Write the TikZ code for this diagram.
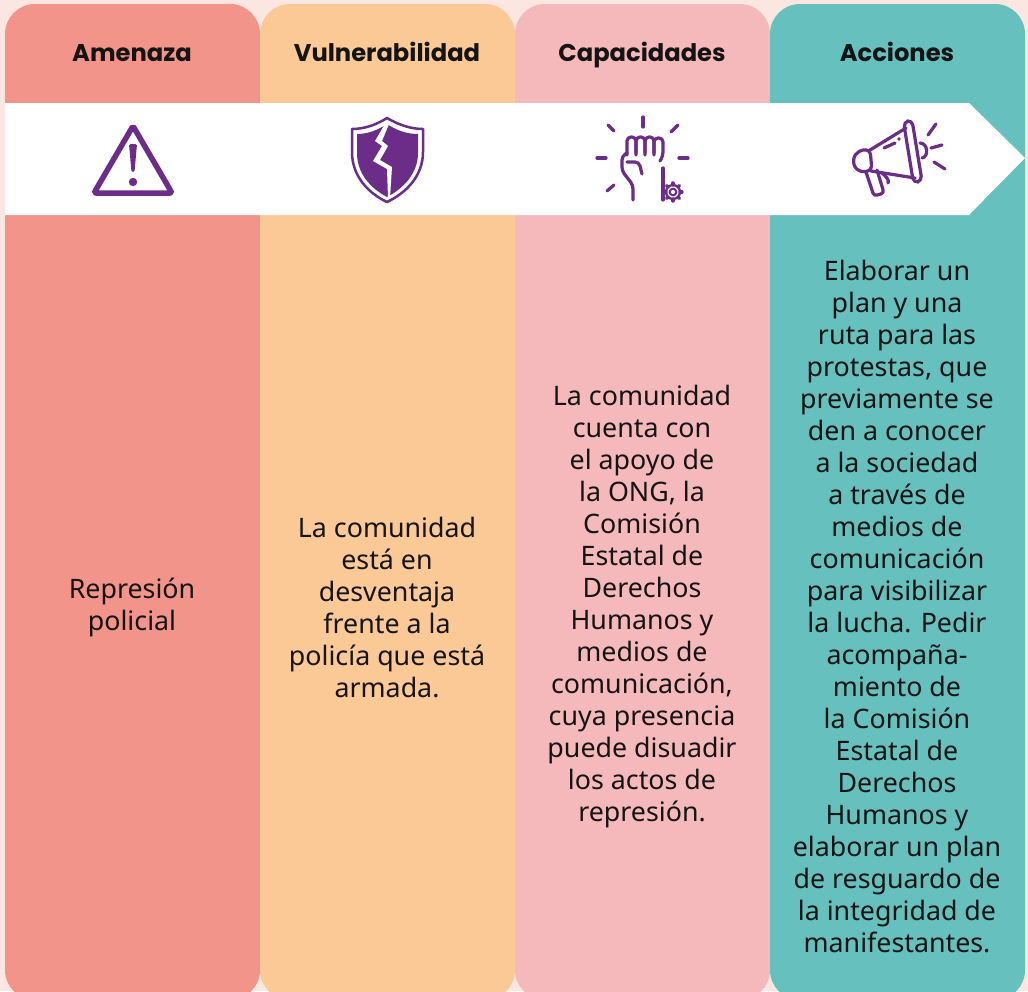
\documentclass[tikz,border=0pt]{standalone}
\usepackage{fontspec}
\usetikzlibrary{calc}
\setmainfont{Noto Sans}
\newfontfamily\headfont{Poppins}
\definecolor{bgc}{RGB}{252,230,226}
\definecolor{cA}{RGB}{242,148,138}
\definecolor{cB}{RGB}{251,201,149}
\definecolor{cC}{RGB}{245,185,188}
\definecolor{cD}{RGB}{102,192,190}
\definecolor{pur}{RGB}{107,45,135}
\definecolor{ink}{RGB}{20,20,20}
\tikzset{
  colbox/.style={rounded corners=30pt},
  head/.style={font=\headfont\bfseries\fontsize{24.2}{28}\selectfont, text=ink, inner sep=0pt, anchor=base},
  body/.style={font=\fontsize{26.8}{32}\selectfont, text=ink, align=center, inner sep=0pt},
  icon/.style={draw=pur, line width=3.2pt, line cap=round, line join=round},
}
\begin{document}
\begin{tikzpicture}[x=1pt,y=-1pt]
\useasboundingbox (0,0) rectangle (1028,991);
\fill[bgc] (0,0) rectangle (1028,991);
\begin{scope}
\clip (0,0) rectangle (1028,991);
\fill[cA, colbox] (5,4) rectangle (260,1000);
\fill[cB, colbox] (260,4) rectangle (515,1000);
\fill[cC, colbox] (515,4) rectangle (770,1000);
\fill[cD, colbox] (770,4) rectangle (1025,1000);
\end{scope}
% band
\fill[white] (5,103) -- (969,103) -- (1025,158) -- (969,215) -- (5,215) -- cycle;

% headers
\node[head] (h1) at (132,61) {Amenaza};
\node[head] (h2) at (387,61) {Vulnerabilidad};
\node[head] (h3) at (642,61) {Capacidades};
\node[head] (h4) at (897,61) {Acciones};

% warning icon
\draw[icon, line width=5.5pt, rounded corners=2pt] (133,126) -- (172,193) -- (94,193) -- cycle;
\fill[pur, rounded corners=1.5pt] (129,144) -- (137,144) -- (134.5,172) -- (131.5,172) -- cycle;
\fill[pur] (133,182) circle (4.2);

% shield icon
\draw[pur, line width=2.5pt, line join=round]
  (387,118) .. controls (376,125) and (364,129) .. (352,129) -- (352,152)
  .. controls (352,176) and (368,193) .. (387,202)
  .. controls (406,193) and (423,176) .. (423,152) -- (423,129)
  .. controls (411,129) and (399,125) .. (387,118) -- cycle;
\fill[pur]
  (387,124) .. controls (378,130) and (368,134) .. (357,134) -- (357,153)
  .. controls (357,173) and (370,188) .. (387,197)
  .. controls (404,188) and (418,173) .. (418,153) -- (418,134)
  .. controls (406,134) and (396,130) .. (387,124) -- cycle;
\fill[white] (385.5,123) -- (389.5,123) -- (382,141) -- (388,146) -- (380,160) -- (392,167) -- (390,198) -- (388,198) -- (387,169) -- (373,161) -- (382,146) -- (375,141) -- cycle;

% fist icon
\draw[icon] (643,117) -- (643,127);
\draw[icon] (608,125) -- (614,131);
\draw[icon] (678,125) -- (671,132);
\draw[icon] (597,158) -- (606,158);
\draw[icon] (679,158) -- (688,158);
\draw[icon] (607,191) -- (614,185);
\draw[icon, rounded corners=4pt] (627,155) -- (627,137) -- (636,137) -- (636,155);
\draw[icon, rounded corners=4pt] (636,153) -- (636,137) -- (645,137) -- (645,155);
\draw[icon, rounded corners=4pt] (645,153) -- (645,137) -- (654,137) -- (654,155);
\draw[icon, rounded corners=4pt] (654,153) -- (654,138) -- (663,138) -- (663,156) -- (660,161);
\draw[icon, rounded corners=4pt] (627,153) -- (622,156) -- (622,171) -- (633,185) -- (633,200);
\draw[icon, rounded corners=4pt] (627,162) -- (639,162) -- (642,174);
\draw[icon] (663,168) -- (663,200);
\coordinate (gc) at (673,192);
\draw[pur, line width=2pt] (gc) circle (3.3);
\foreach \a in {0,45,...,315} {
  \draw[pur, line width=3.4pt, line cap=round] ($(gc)+(\a:7)$) -- ($(gc)+(\a:9)$);
}
\draw[pur, line width=2.3pt] (gc) circle (7);

% megaphone icon
\draw[icon, rounded corners=5pt] (903.5,122) -- (912,120) -- (922,181) -- (913.5,183) -- cycle;
\draw[icon] (906,128) -- (870,150) (871,171) -- (915,178);
\draw[icon, rounded corners=6pt] (870,149) -- (857,151) -- (852,162) -- (858,172) -- (872,171) -- cycle;
\draw[icon] (920,143) .. controls (928,143) and (929,157) .. (922,158);
\draw[icon, rounded corners=3pt] (866,172) -- (874,196) -- (884,193) -- (877,170);
\draw[icon] (882,173) .. controls (886,176) and (890,181) .. (888,183);
\draw[icon] (884,148) -- (895,143);
\fill[pur] (899,139) circle (1.8);
\draw[icon] (928,135) -- (936,124);
\draw[icon] (931,148) -- (942,145);
\draw[icon] (934,162) -- (945,169);

% texts
\node[body] (t1) at (132,607) {Represión\\policial};
\node[body] (t2) at (387,607) {La comunidad\\está en\\desventaja\\frente a la\\policía que está\\armada.};
\node[body] (t3) at (642,607) {La comunidad\\cuenta con\\el apoyo de\\la ONG, la\\Comisión\\Estatal de\\Derechos\\Humanos y\\medios de\\comunicación,\\cuya presencia\\puede disuadir\\los actos de\\represión.};
\node[body] (t4) at (897,606) {Elaborar un\\plan y una\\ruta para las\\protestas, que\\previamente se\\den a conocer\\a la sociedad\\a través de\\medios de\\comunicación\\para visibilizar\\la lucha. Pedir\\acompaña-\\miento de\\la Comisión\\Estatal de\\Derechos\\Humanos y\\elaborar un plan\\de resguardo de\\la integridad de\\manifestantes.};
\end{tikzpicture}
\end{document}
